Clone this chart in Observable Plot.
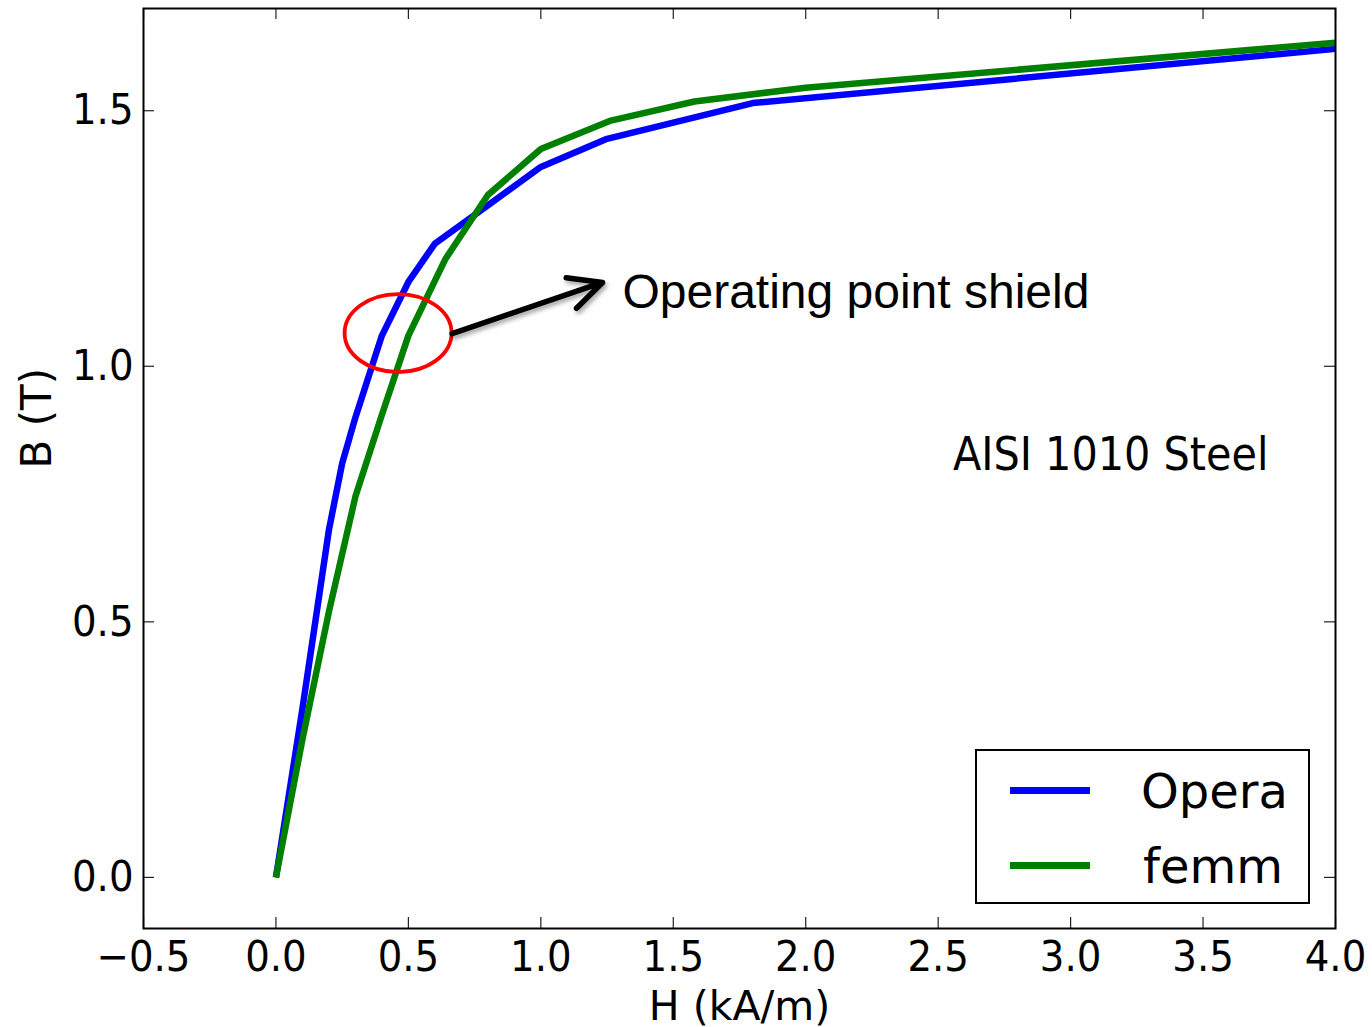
<!DOCTYPE html>
<html>
<head>
<meta charset="utf-8">
<script src="https://cdn.jsdelivr.net/npm/d3@7"></script>
<script src="https://cdn.jsdelivr.net/npm/@observablehq/plot@0.6"></script>
<style>
  html, body { margin: 0; padding: 0; background: white; }
  #wrap { position: relative; width: 1372px; height: 1027px; }
  #legend { position: absolute; left: 975px; top: 749px; width: 331px; height: 151px;
            border: 2px solid black; background: white; box-sizing: content-box; }
  .row { position: absolute; left: 0; width: 331px; height: 60px; }
  .sw { position: absolute; left: 33px; top: 26px; width: 80px; height: 7px; }
  .lab { position: absolute; right: 20px; top: 0; height: 60px; line-height: 60px;
         font-family: "DejaVu Sans", sans-serif; font-size: 48px; color: black; }
</style>
</head>
<body>
<div id="wrap"></div>
<script>
// ---- data ----
const seriesNames = ["Opera", "femm"];
const seriesColors = ["#0000ff", "#008000"];

const H_opera = [0, 0.1, 0.2, 0.25, 0.3, 0.4, 0.5, 0.6, 0.8, 1.0, 1.25, 1.8, 4.0];
const B_opera = [0, 0.33, 0.68, 0.81, 0.90, 1.06, 1.165, 1.24, 1.315, 1.39, 1.445, 1.515, 1.621];

const H_femm = [0, 0.1, 0.2, 0.3, 0.4, 0.5, 0.64, 0.8, 1.0, 1.26, 1.58, 2.0, 4.0];
const B_femm = [0, 0.27, 0.52, 0.745, 0.905, 1.06, 1.21, 1.335, 1.425, 1.48, 1.518, 1.545, 1.633];

const xTicks = [-0.5, 0.0, 0.5, 1.0, 1.5, 2.0, 2.5, 3.0, 3.5, 4.0];
const yTicks = [0.0, 0.5, 1.0, 1.5];
const xDomain = [-0.5, 4.0];
const yDomain = [-0.1, 1.7];

const xLabel = "H (kA/m)";
const yLabel = "B (T)";
const materialLabel = [{H: 2.556, B: 0.826, text: "AISI 1010 Steel"}];
const circleCenter = [{H: 0.463, B: 1.064}];
const arrowData = [{H1: 0.665, B1: 1.064, H2: 1.233, B2: 1.164}];
const arrowLabel = [{H: 1.308, B: 1.1445, text: "Operating point shield"}];

// ---- build table ----
const rows = [];
[[H_opera, B_opera], [H_femm, B_femm]].forEach(([hs, bs], k) => {
  hs.forEach((h, i) => rows.push({series: seriesNames[k], H: h, B: bs[i]}));
});

const fmt = d3.format(".1f");

const chart = Plot.plot({
  width: 1372,
  height: 1027,
  marginLeft: 143,
  marginRight: 37,
  marginTop: 8,
  marginBottom: 99,
  style: {fontFamily: "'DejaVu Sans Condensed', 'DejaVu Sans', sans-serif", fontSize: "44px", color: "black", background: "white", overflow: "visible"},
  x: {domain: xDomain},
  y: {domain: yDomain},
  color: {domain: seriesNames, range: seriesColors},
  marks: [
    // inward ticks on all four sides
    Plot.ruleX(xTicks, {x: d => d, insetTop: 909, stroke: "#222", strokeWidth: 1.2}),
    Plot.ruleX(xTicks, {x: d => d, insetBottom: 909, stroke: "#222", strokeWidth: 1.2}),
    Plot.ruleY(yTicks, {y: d => d, insetRight: 1181, stroke: "#222", strokeWidth: 1.2}),
    Plot.ruleY(yTicks, {y: d => d, insetLeft: 1181, stroke: "#222", strokeWidth: 1.2}),
    Plot.axisX(xTicks, {tickSize: 0, tickPadding: 12, tickFormat: fmt, label: null, fontSize: 43}),
    Plot.axisY(yTicks, {tickSize: 0, tickPadding: 10, tickFormat: fmt, label: null, fontSize: 43}),
    Plot.text([xLabel], {text: d => d, frameAnchor: "bottom", dy: 78, lineAnchor: "middle",
      fontFamily: "DejaVu Sans", fontSize: 41, fill: "black"}),
    Plot.text([yLabel], {text: d => d, frameAnchor: "left", dx: -106, rotate: -90, lineAnchor: "middle",
      fontFamily: "DejaVu Sans", fontSize: 42, fill: "black"}),
    Plot.line(rows, {x: "H", y: "B", z: "series", stroke: "series", strokeWidth: 6.5,
      strokeLinejoin: "round", strokeLinecap: "butt"}),
    Plot.text(materialLabel, {x: "H", y: "B", text: "text", textAnchor: "start", lineAnchor: "middle",
      fontFamily: "'DejaVu Sans Condensed', 'DejaVu Sans'", fontSize: 46, fill: "black"}),
    // red ellipse annotation
    Plot.dot(circleCenter, {x: "H", y: "B", r: 1,
      render: (index, scales, values, dims, context) => {
        const g = document.createElementNS("http://www.w3.org/2000/svg", "g");
        for (const i of index) {
          const e = document.createElementNS("http://www.w3.org/2000/svg", "ellipse");
          e.setAttribute("cx", values.x[i]);
          e.setAttribute("cy", values.y[i]);
          e.setAttribute("rx", 53.5);
          e.setAttribute("ry", 39);
          e.setAttribute("fill", "none");
          e.setAttribute("stroke", "#ff0000");
          e.setAttribute("stroke-width", 3.8);
          g.appendChild(e);
        }
        return g;
      }}),
    Plot.arrow(arrowData, {x1: "H1", y1: "B1", x2: "H2", y2: "B2", stroke: "black", strokeWidth: 5.5,
      headLength: 10, headAngle: 52, strokeLinecap: "round", strokeLinejoin: "round",
      render: (index, scales, values, dims, context, next) => {
        const g = next(index, scales, values, dims, context);
        g.style.filter = "drop-shadow(2px 3px 2px rgba(0,0,0,0.35))";
        return g;
      }}),
    Plot.text(arrowLabel, {x: "H", y: "B", text: "text", textAnchor: "start", lineAnchor: "middle",
      fontFamily: "'Liberation Sans', Arial, sans-serif", fontSize: 48, fill: "black"}),
    Plot.frame({stroke: "black", strokeWidth: 2})
  ]
});

const wrap = document.getElementById("wrap");
wrap.appendChild(chart);

// legend
const legend = document.createElement("div");
legend.id = "legend";
seriesNames.forEach((name, i) => {
  const row = document.createElement("div");
  row.className = "row";
  row.style.top = (10 + 75 * i) + "px";
  const sw = document.createElement("div");
  sw.className = "sw";
  sw.style.background = seriesColors[i];
  const lab = document.createElement("div");
  lab.className = "lab";
  lab.style.right = (i === 0 ? 20 : 25) + "px";
  lab.textContent = name;
  row.appendChild(sw);
  row.appendChild(lab);
  legend.appendChild(row);
});
wrap.appendChild(legend);
</script>
</body>
</html>
